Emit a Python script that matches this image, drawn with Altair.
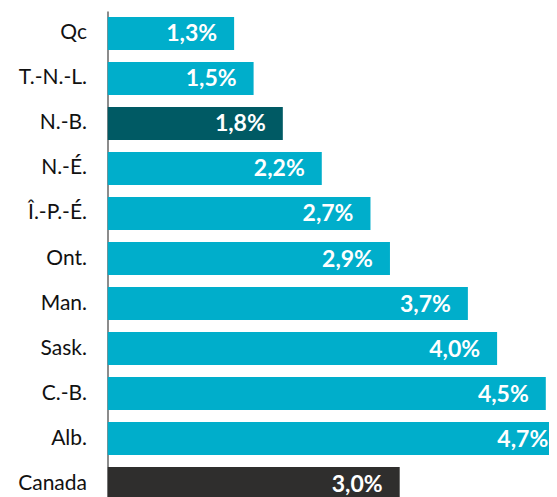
import altair as alt
import pandas as pd

provinces = ["Qc", "T.-N.-L.", "N.-B.", "N.-É.", "Î.-P.-É.", "Ont.", "Man.", "Sask.", "C.-B.", "Alb.", "Canada"]
values = [1.3, 1.5, 1.8, 2.2, 2.7, 2.9, 3.7, 4.0, 4.5, 4.7, 3.0]
labels = ["1,3%", "1,5%", "1,8%", "2,2%", "2,7%", "2,9%", "3,7%", "4,0%", "4,5%", "4,7%", "3,0%"]
groups = ["prov", "prov", "hl", "prov", "prov", "prov", "prov", "prov", "prov", "prov", "canada"]

df = pd.DataFrame({"prov": provinces, "val": values, "lab": labels, "grp": groups})

FONT = "Lato"
STEP = 45
PLOT_W = 441.5
PLOT_H = 486
XMAX = PLOT_W / 97.4

y = alt.Y("prov:N", sort=provinces, title=None,
          scale=alt.Scale(paddingInner=0.2667, paddingOuter=0.1333, range=[0, STEP * len(provinces)]),
          axis=alt.Axis(ticks=False, labelFontSize=21, labelFont=FONT, labelColor="#111111",
                        labelPadding=21, domainColor="#8c8c8c", domainWidth=2, grid=False))
x = alt.X("val:Q", title=None, scale=alt.Scale(domain=[0, XMAX], nice=False, zero=True),
          axis=None)

bars = alt.Chart(df).mark_bar(clip=True, cornerRadius=0).encode(
    x=x, y=y,
    color=alt.Color("grp:N", legend=None,
                    scale=alt.Scale(domain=["prov", "hl", "canada"],
                                    range=["#00AECB", "#005A64", "#2F2E2D"])),
)

text = alt.Chart(df).mark_text(align="right", baseline="middle", dx=-17, dy=1,
                               font=FONT, fontSize=23, fontWeight="bold", color="white").encode(
    x=x, y=alt.Y("prov:N", sort=provinces), text="lab:N"
)

chart = alt.layer(bars, text).properties(
    width=PLOT_W, height=PLOT_H,
    autosize=alt.AutoSizeParams(type="none"),
    padding={"left": 99.5, "top": 3, "right": 0, "bottom": 0},
).configure_view(stroke=None)

chart.save("out.html", embed_options={"renderer": "svg", "actions": False})
